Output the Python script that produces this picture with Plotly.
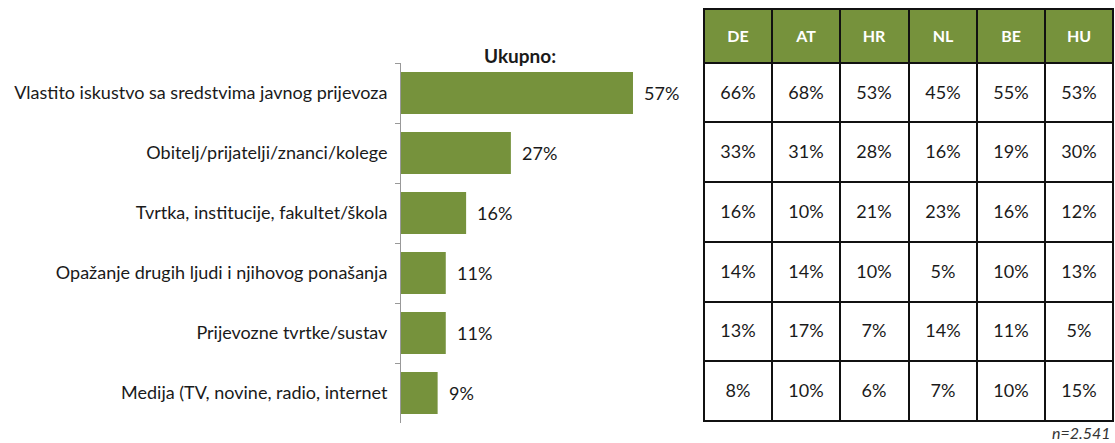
import plotly.graph_objects as go

categories = [
    "Vlastito iskustvo sa sredstvima javnog prijevoza",
    "Obitelj/prijatelji/znanci/kolege",
    "Tvrtka, institucije, fakultet/škola",
    "Opažanje drugih ljudi i njihovog ponašanja",
    "Prijevozne tvrtke/sustav",
    "Medija (TV, novine, radio, internet",
]
total = [57, 27, 16, 11, 11, 9]

countries = ["DE", "AT", "HR", "NL", "BE", "HU"]
DE = [66, 33, 16, 14, 13, 8]
AT = [68, 31, 10, 14, 17, 10]
HR = [53, 28, 21, 10, 7, 6]
NL = [45, 16, 23, 5, 14, 7]
BE = [55, 19, 16, 10, 11, 10]
HU = [53, 30, 12, 13, 5, 15]

GREEN = "#76923C"
TXT = "#1a1a1a"
FONT = "Lato"
W, H = 1115, 443

def px_x(p):
    return p / W

def px_y(p):
    return 1 - p / H

fig = go.Figure()

# --- bar chart ---
fig.add_trace(go.Bar(
    x=total, y=categories, orientation="h",
    marker=dict(color=GREEN, line=dict(width=0)),
    width=0.7, hoverinfo="skip",
    xaxis="x", yaxis="y",
))
for c, v in zip(categories, total):
    fig.add_annotation(
        x=v, y=c, xref="x", yref="y", text=f"{v}%", showarrow=False,
        xanchor="left", xshift=9, font=dict(family=FONT, size=18, color=TXT),
    )

# --- table as heatmap ---
cols = [DE, AT, HR, NL, BE, HU]
HEAD_H, ROW_H = 54, 60
y_edges = [0, HEAD_H] + [HEAD_H + ROW_H * (i + 1) for i in range(len(categories))]
x_edges = list(range(len(countries) + 1))
z = [[1] * len(countries)] + [[0] * len(countries) for _ in categories]
text = [[f"<span style='color:white;font-size:16px'><b>{c}</b></span>" for c in countries]]
for r in range(len(categories)):
    text.append([f"{cols[k][r]}%" for k in range(len(countries))])

fig.add_trace(go.Heatmap(
    x=x_edges, y=y_edges, z=z, text=text, texttemplate="%{text}",
    colorscale=[[0, "white"], [1, GREEN]], zmin=0, zmax=1, showscale=False,
    xgap=2, ygap=2, hoverinfo="skip",
    textfont=dict(family=FONT, size=18, color=TXT),
    xaxis="x2", yaxis="y2",
))
fig.add_shape(
    type="rect", xref="x2 domain", yref="y2 domain", x0=0, x1=1, y0=0, y1=1,
    line=dict(color="#111", width=2), fillcolor="#111", layer="below",
)

fig.add_annotation(
    x=px_x(520), y=px_y(42), xref="paper", yref="paper", text="<b>Ukupno:</b>",
    showarrow=False, font=dict(family=FONT, size=19, color=TXT),
)
fig.add_annotation(
    x=px_x(1112), y=0, xref="paper", yref="paper", text="<i>n=2.541</i>",
    showarrow=False, xanchor="right", yanchor="bottom", borderpad=0,
    font=dict(family=FONT, size=16, color="#333"),
)

x0, x1 = 401, 700
fig.update_layout(
    width=W, height=H, margin=dict(l=0, r=0, t=0, b=0),
    paper_bgcolor="white", plot_bgcolor="white", showlegend=False,
    font=dict(family=FONT, size=18, color=TXT),
    xaxis=dict(domain=[px_x(x0), px_x(x1)], range=[0, (x1 - x0) / 4.07],
               visible=False, fixedrange=True),
    yaxis=dict(domain=[px_y(423), px_y(63)], autorange="reversed",
               showline=True, linecolor="#999", linewidth=1,
               ticks="outside", tickson="boundaries", ticklen=5, tickcolor="#999",
               showgrid=False, ticklabelstandoff=9,
               tickfont=dict(family=FONT, size=18, color=TXT), fixedrange=True),
    xaxis2=dict(domain=[px_x(704), px_x(1113)], range=[0, len(countries)],
                visible=False, fixedrange=True),
    yaxis2=dict(domain=[px_y(421), px_y(9)], range=[y_edges[-1], 0],
                visible=False, fixedrange=True),
)

fig.write_html(
    "out.html",
    config={"displayModeBar": False, "staticPlot": True},
    post_script="document.documentElement.style.margin='0';document.body.style.margin='0';"
                "document.body.style.overflow='hidden';",
)
